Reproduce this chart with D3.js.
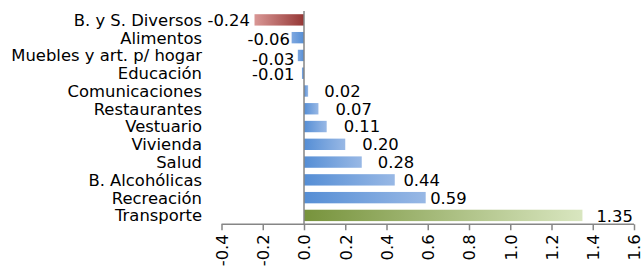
<!DOCTYPE html>
<html>
<head>
<meta charset="utf-8">
<script src="https://cdn.jsdelivr.net/npm/d3@7"></script>
<style>
  html, body { margin: 0; padding: 0; background: #ffffff; }
  svg { display: block; }
  text { font-family: "DejaVu Sans", Verdana, sans-serif; fill: #000; }
</style>
</head>
<body>
<svg id="chart" width="642" height="272"></svg>
<script>
// ---- data ----
const categories = [
  "B. y S. Diversos", "Alimentos", "Muebles y art. p/ hogar", "Educación",
  "Comunicaciones", "Restaurantes", "Vestuario", "Vivienda", "Salud",
  "B. Alcohólicas", "Recreación", "Transporte"
];
const values = [-0.24, -0.06, -0.03, -0.01, 0.02, 0.07, 0.11, 0.20, 0.28, 0.44, 0.59, 1.35];
const valueLabels = ["-0.24", "-0.06", "-0.03", "-0.01", "0.02", "0.07", "0.11", "0.20", "0.28", "0.44", "0.59", "1.35"];
const xTicks = [-0.4, -0.2, 0.0, 0.2, 0.4, 0.6, 0.8, 1.0, 1.2, 1.4, 1.6];
const xTickLabels = ["-0.4", "-0.2", "0.0", "0.2", "0.4", "0.6", "0.8", "1.0", "1.2", "1.4", "1.6"];

// ---- layout (label nudges, px) ----
const labelGap = [4.6, 1.7, 3.3, 7.4, 16, 17, 17, 17, 16, 8.7, 4.5, 14];
const labelDy  = [0, 1, 3.5, 1, 0.5, 0, 0, 0, 0, 0, 0, 0.5];

const svg = d3.select("#chart");
const x = d3.scaleLinear().domain([-0.4, 1.6]).range([221.5, 634]);
const y = d3.scaleBand().domain(categories).range([11, 224.3]).paddingInner(0.36).paddingOuter(0.18);

// gradients
const defs = svg.append("defs");
function grad(id, c0, c1, reverse) {
  const g = defs.append("linearGradient").attr("id", id)
    .attr("x1", reverse ? "100%" : "0%").attr("x2", reverse ? "0%" : "100%")
    .attr("y1", "0%").attr("y2", "0%");
  g.append("stop").attr("offset", "0%").attr("stop-color", c0);
  g.append("stop").attr("offset", "100%").attr("stop-color", c1);
}
grad("gRed", "#953735", "#D99795", true);
grad("gBlueNeg", "#558ED5", "#7FA8E0", true);
grad("gBlue", "#558ED5", "#98B8E5", false);
grad("gGreen", "#77933C", "#D9E6C0", false);

function fillFor(d, i) {
  if (i === 0) return "url(#gRed)";
  if (i === categories.length - 1) return "url(#gGreen)";
  return d < 0 ? "url(#gBlueNeg)" : "url(#gBlue)";
}

// bars
svg.append("g").selectAll("rect").data(values).join("rect")
  .attr("x", d => x(Math.min(0, d)))
  .attr("y", (d, i) => y(categories[i]))
  .attr("width", d => Math.abs(x(d) - x(0)))
  .attr("height", y.bandwidth())
  .attr("fill", fillFor);

// x axis
const xAxis = d3.axisBottom(x).tickValues(xTicks).tickSize(6)
  .tickFormat((d, i) => xTickLabels[i]);
const gx = svg.append("g").attr("transform", "translate(0,224.3)").call(xAxis);
gx.select(".domain").attr("stroke", "#868686").attr("stroke-width", 1.5)
  .attr("d", `M${x(-0.4)},0H${x(1.6)}`);
gx.selectAll(".tick line").attr("stroke", "#868686").attr("stroke-width", 1.5);
gx.selectAll(".tick text")
  .attr("font-size", 16.4)
  .attr("font-family", "DejaVu Sans, Verdana, sans-serif")
  .attr("text-anchor", "end")
  .attr("transform", "rotate(-90)")
  .attr("x", -10)
  .attr("y", 0)
  .attr("dy", "0.35em")
  .attr("fill", "#000");

// y axis (vertical line at zero)
svg.append("line")
  .attr("x1", x(0)).attr("x2", x(0))
  .attr("y1", 11).attr("y2", 224.3)
  .attr("stroke", "#868686").attr("stroke-width", 1.5);

// category labels
svg.append("g").selectAll("text").data(categories).join("text")
  .attr("x", 202)
  .attr("y", d => y(d) + y.bandwidth() / 2)
  .attr("dy", "0.36em")
  .attr("text-anchor", "end")
  .attr("font-size", 16.4)
  .text(d => d);

// value labels
svg.append("g").selectAll("text").data(values).join("text")
  .attr("x", (d, i) => d < 0 ? x(d) - labelGap[i] : x(d) + labelGap[i])
  .attr("y", (d, i) => y(categories[i]) + y.bandwidth() / 2 + labelDy[i])
  .attr("dy", "0.36em")
  .attr("text-anchor", d => d < 0 ? "end" : "start")
  .attr("font-size", 16.4)
  .text((d, i) => valueLabels[i]);
</script>
</body>
</html>
